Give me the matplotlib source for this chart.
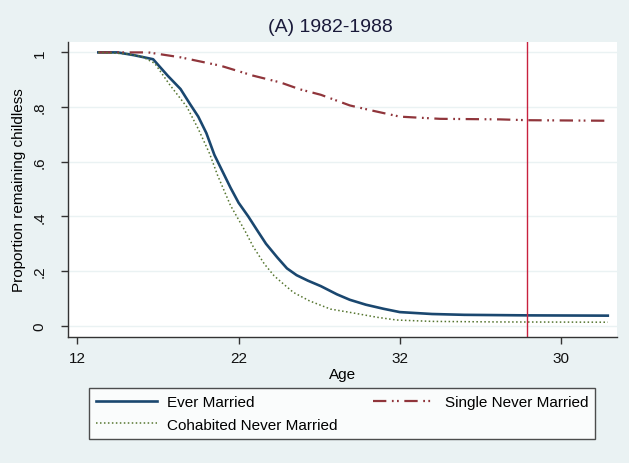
import matplotlib
matplotlib.use("Agg")
import matplotlib.pyplot as plt

plt.rcParams["font.family"] = ["Liberation Sans", "DejaVu Sans"]

# Kaplan-Meier style survival curves: proportion still childless by age
age_married = [13.3, 14.5, 15.5, 16.7, 17.0, 17.6, 18.4, 19.0, 19.5, 20.0,
               20.5, 21.0, 21.5, 22.0, 22.6, 23.2, 23.7, 24.4, 25.0, 25.6,
               26.3, 27.1, 28.1, 28.9, 29.9, 31.0, 32.0, 34.0, 36.0, 40.0, 44.9]
surv_married = [1.0, 1.0, 0.99, 0.975, 0.955, 0.915, 0.866, 0.81, 0.765, 0.705,
                0.625, 0.565, 0.505, 0.45, 0.40, 0.345, 0.30, 0.25, 0.21, 0.185,
                0.165, 0.145, 0.115, 0.095, 0.077, 0.062, 0.05, 0.043, 0.040,
                0.038, 0.037]

age_single = [13.3, 16.4, 18.4, 20.9, 22.9, 24.6, 25.8, 27.1, 28.9, 30.3,
              32.0, 34.5, 38.2, 39.9, 44.9]
surv_single = [1.0, 1.0, 0.982, 0.951, 0.915, 0.89, 0.865, 0.845, 0.806, 0.787,
               0.765, 0.757, 0.755, 0.752, 0.75]

age_cohab = [13.3, 15.0, 16.0, 16.8, 17.7, 18.8, 19.5, 20.2, 20.7, 21.5,
             22.4, 22.9, 23.6, 24.2, 24.8, 25.4, 26.4, 27.7, 28.9, 30.6,
             31.8, 34.0, 38.0, 44.9]
surv_cohab = [1.0, 0.995, 0.985, 0.96, 0.884, 0.80, 0.72, 0.63, 0.55, 0.44,
              0.347, 0.29, 0.226, 0.183, 0.152, 0.122, 0.091, 0.061, 0.049, 0.031,
              0.021, 0.016, 0.014, 0.013]

x_ticks = [12, 22, 32, 42]
x_tick_labels = ["12", "22", "32", "30"]
y_ticks = [0, 0.2, 0.4, 0.6, 0.8, 1.0]
y_tick_labels = ["0", ".2", ".4", ".6", ".8", "1"]
ref_age = 39.9

bg = "#eaf2f3"
navy = "#1a476f"
maroon = "#90353b"
green = "#55752f"

fig = plt.figure(figsize=(6.29, 4.64), dpi=100, facecolor=bg)
ax = fig.add_axes([0.1076, 0.2722, 0.9814 - 0.1076, 0.9067 - 0.2722])
ax.set_facecolor("white")

for y in y_ticks:
    ax.axhline(y, color=bg, lw=1.0, zorder=0)

l1, = ax.plot(age_married, surv_married, color=navy, lw=1.9,
              label="Ever Married")
l3, = ax.plot(age_single, surv_single, color=maroon, lw=1.6,
              dashes=(6, 2.5, 0.8, 1.5, 0.8, 2.5),
              label="Single Never Married")
l2, = ax.plot(age_cohab, surv_cohab, color=green, lw=1.1, ls=(0, (1, 1.6)),
              label="Cohabited Never Married")
ax.axvline(ref_age, color="#c8213e", lw=1.0)

ax.set_xlim(11.4, 45.49)
ax.set_ylim(-0.040, 1.037)
ax.set_xticks(x_ticks)
ax.set_xticklabels(x_tick_labels)
ax.set_yticks(y_ticks)
ax.set_yticklabels(y_tick_labels, rotation=90, va="center")

for side in ("top", "right"):
    ax.spines[side].set_visible(False)
for side in ("left", "bottom"):
    ax.spines[side].set_color("#333333")
    ax.spines[side].set_linewidth(1.0)

ax.tick_params(axis="both", direction="out", length=5, width=1,
               color="#333333", labelsize=11, labelcolor="#111111")
ax.tick_params(axis="y", pad=10)
ax.tick_params(axis="x", pad=5)

ax.set_xlabel("Age", fontsize=11, labelpad=2)
ax.set_ylabel("Proportion remaining childless", fontsize=11, labelpad=5)

fig.text(330 / 629, 1 - 27 / 464, "(A) 1982-1988", ha="center", va="center",
         fontsize=14, color="#1a1a3a")

leg = fig.legend(handles=[l1, l2, l3], ncol=2, loc="center",
                 bbox_to_anchor=(342 / 629, 1 - 414.5 / 464),
                 fontsize=11, frameon=True, fancybox=False,
                 handlelength=4.0, handletextpad=0.7, columnspacing=2.3,
                 borderpad=0.45, labelspacing=0.55)
leg.get_frame().set_edgecolor("#222222")
leg.get_frame().set_linewidth(1.0)

fig.savefig("out.png", dpi=100, facecolor=bg)
